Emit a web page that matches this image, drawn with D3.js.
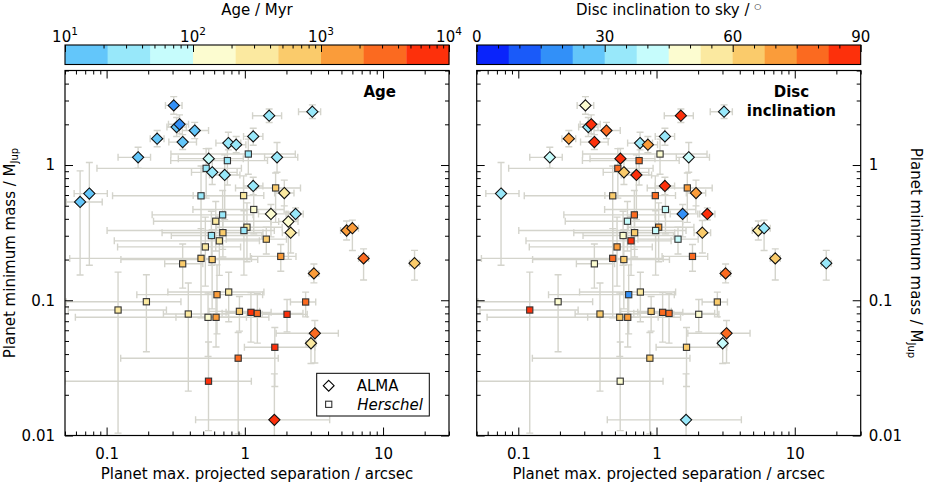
<!DOCTYPE html>
<html><head><meta charset="utf-8">
<script src="https://cdn.jsdelivr.net/npm/d3@7"></script>
<style>
body{margin:0;background:#fff}
svg{display:block}
text{font-family:"DejaVu Sans",sans-serif;fill:#000}
</style>
</head><body>
<svg id="c" width="926" height="490"></svg>
<script>
// ---------------- data ----------------
// 35 Herschel planets followed by 32 ALMA planets
const instrument = [].concat(Array.from({length:35},()=>"Herschel"), Array.from({length:32},()=>"ALMA"));

// planet maximum projected separation / arcsec
const separation = [
 1.06,0.748,0.525,0.482,0.98,1.67,1.16,0.691,0.616,1.036,0.985,0.573,0.694,0.654,1.43,0.518,1.82,0.355,0.482,0.58,
 0.629,0.764,0.194,0.121,0.39,0.542,0.619,0.914,1.107,1.232,2.02,2.754,1.648,0.895,0.546,
 0.306,0.321,0.337,0.434,0.232,0.355,0.169,0.075,0.0643,0.548,0.581,0.715,0.760,0.866,1.15,1.50,3.08,1.71,1.15,1.93,
 1.545,2.33,2.065,2.145,3.16,5.45,6.0,7.23,16.9,3.21,3.01,1.636];

// planet minimum mass / M_Jup
const mass = [
 1.206,1.078,0.945,0.592,0.594,0.677,0.469,0.428,0.384,0.347,0.328,0.301,0.316,0.275,0.283,0.248,0.211,0.186,0.204,0.200,
 0.110,0.115,0.0975,0.0847,0.0791,0.0748,0.0748,0.0828,0.0814,0.080,0.0787,0.0971,0.0449,0.0373,0.0252,
 2.76,1.91,2.0,1.80,1.566,1.478,1.14,0.615,0.533,1.115,0.883,0.844,1.453,1.414,1.628,2.315,2.48,1.14,0.70,0.621,
 0.435,0.435,0.382,0.316,0.158,0.328,0.341,0.204,0.188,0.057,0.0481,0.01305];

// system age / Myr
const ageMyr = [
 30,35,27,22,250,550,130,33,320,280,36,29,700,380,800,330,1300,650,750,850,
 1600,300,260,230,420,180,1200,900,7000,3000,6500,4000,8000,2500,5000,
 5,15,6,18,14,16,12,13,17,60,30,25,40,35,28,32,24,38,42,300,
 150,30,170,350,1500,1400,1800,3000,600,3500,400,6000];

// disc inclination to sky / deg (null = unknown, not in right panel)
const inclination = [
 48,80,79,65,80,70,41,81,43,69,39,50,66,87,44,72,79,51,77,63,
 18,57,47,85,61,62,70,65,80,78,50,64,62,66,52,
 49,34,85,78,71,88,40,33,null,84,63,87,35,73,36,86,33,42,83,70,
 20,88,null,62,78,57,35,64,32,77,40,35];

// uncertainties in dex
const sepErrLo = [
 .56,.41,.79,.64,.365,.29,.44,.51,.45,.22,.99,.29,.44,.76,.29,.635,.22,.13,.95,.66,
 .58,.44,.58,.36,.18,.96,.29,.22,.18,.255,.18,.11,.22,.85,1.04,
 .06,.07,.08,.09,.05,.1,.145,.11,.1,.22,.15,.11,.09,.07,.07,.12,.1,.09,.07,.07,
 .09,.055,.07,.06,.036,.044,.044,.036,.036,.28,.036,.57];
const sepErrHi = [
 .34,.29,.255,.31,.146,.18,.22,.22,.4,.255,.22,.365,.29,.29,.146,.255,.11,.146,.365,.33,
 .33,.255,.25,.35,.29,.44,.22,.146,.146,.33,.146,.073,.29,.29,.31,
 .06,.07,.065,.1,.05,.1,.09,.13,.16,.25,.18,.11,.09,.07,.07,.09,.06,.15,.07,.07,
 .11,.055,.07,.06,.036,.044,.044,.036,.036,.17,.036,.4];
const massErrLo = [
 .15,.18,.22,.44,.29,.255,.18,.255,.22,.255,.33,.22,.18,.255,.11,.29,.11,.18,.44,.365,
 .29,.22,.37,.91,.57,.29,.22,.146,.22,.22,.13,.11,.29,.56,.365,
 .065,.07,.07,.06,.06,.055,.08,.53,.54,.075,.09,.33,.05,.06,.065,.05,.05,.11,.065,.095,
 .17,.045,.28,.15,.07,.07,.165,.16,.125,.22,.15,.35];
const massErrHi = [
 .11,.11,.146,.22,.146,.11,.146,.18,.146,.18,.146,.18,.146,.18,.088,.22,.088,.146,.22,.22,
 .22,.146,.2,.28,.23,.18,.146,.11,.146,.146,.11,.073,.146,.19,.29,
 .065,.07,.07,.06,.06,.055,.075,.23,.23,.075,.09,.15,.08,.06,.06,.05,.05,.11,.065,.095,
 .07,.045,.07,.09,.07,.07,.06,.07,.095,.095,.07,.34];

// colour bins (12 steps) and scale ticks
const binColours = ["#0a24fb","#1a5af9","#3290f8","#63c6fa","#98e8fa","#c6fcfc",
                    "#fcfcd0","#fbe9a0","#facb6b","#fa9c3a","#fb6a20","#fd300b"];
const ageBinEdges = [10,21.54,46.42,100,215.4,464.2,1000,2154,4642,10000];
const ageTickExponents = ["1","2","3","4"];
const incTicks = [0,30,60,90];
const xMajorTicks = [0.1,1,10];
const yMajorTicks = [0.01,0.1,1];

// ---------------- drawing ----------------
const svg = d3.select("#c");
const PW = 384, TOP = 70.5, BOT = 435.5, CB_TOP = 45, CB_H = 19.5;
const FS = 15;
const ageColour = d3.scaleThreshold().domain(ageBinEdges.slice(0,9)).range([binColours[2]].concat(binColours.slice(3)));
const incColour = d3.scaleQuantize().domain([0,90]).range(binColours);

const xMinor = [], yMinor = [];
for (let k=-2;k<=1;k++) for (let m=2;m<=9;m++){const v=m*Math.pow(10,k); if(v>=0.05&&v<=30&&v!==0.1&&v!==1&&v!==10) xMinor.push(v);}
for (let k=-2;k<=0;k++) for (let m=2;m<=9;m++){const v=m*Math.pow(10,k); if(v<=5) yMinor.push(v);}

function styleAxis(g){
  g.select(".domain").remove();
  g.selectAll(".tick line").attr("stroke","#000").attr("stroke-width",1);
  g.selectAll(".tick text").attr("font-size",FS).attr("font-family","DejaVu Sans");
  g.attr("font-family",null).attr("font-size",null);
}

function panel(x0, colourOf, values, isLeft){
  const x = d3.scaleLog().domain([0.05,30]).range([x0, x0+PW]);
  const y = d3.scaleLog().domain([0.01,5]).range([BOT, TOP]);
  const g = svg.append("g");
  const cid = "clip"+Math.round(x0);
  svg.append("clipPath").attr("id",cid).append("rect")
     .attr("x",x0).attr("y",TOP).attr("width",PW).attr("height",BOT-TOP);
  const idx = d3.range(separation.length).filter(i => values[i] !== null);

  // error bars
  const eb = g.append("g").attr("clip-path",`url(#${cid})`)
     .attr("stroke","#d4d4cc").attr("stroke-width",1.4).attr("fill","none");
  const cap = 3.5;
  idx.forEach(i=>{
    const cx = x(separation[i]), cy = y(mass[i]);
    const xl = x(separation[i]*Math.pow(10,-sepErrLo[i])), xh = x(separation[i]*Math.pow(10,sepErrHi[i]));
    const yl = y(mass[i]*Math.pow(10,-massErrLo[i])), yh = y(mass[i]*Math.pow(10,massErrHi[i]));
    const p = d3.path();
    p.moveTo(xl,cy); p.lineTo(xh,cy);
    p.moveTo(xl,cy-cap); p.lineTo(xl,cy+cap);
    p.moveTo(xh,cy-cap); p.lineTo(xh,cy+cap);
    p.moveTo(cx,yl); p.lineTo(cx,yh);
    p.moveTo(cx-cap,yl); p.lineTo(cx+cap,yl);
    p.moveTo(cx-cap,yh); p.lineTo(cx+cap,yh);
    eb.append("path").attr("d",p.toString());
  });

  // markers
  const mk = g.append("g").attr("clip-path",`url(#${cid})`);
  idx.filter(i=>instrument[i]==="Herschel").forEach(i=>{
    mk.append("rect").attr("x",x(separation[i])-3.1).attr("y",y(mass[i])-3.1)
      .attr("width",6.2).attr("height",6.2)
      .attr("fill",colourOf(values[i])).attr("stroke","#333").attr("stroke-width",1.1);
  });
  const r = 5.6;
  idx.filter(i=>instrument[i]==="ALMA").forEach(i=>{
    const cx=x(separation[i]), cy=y(mass[i]);
    mk.append("path").attr("d",`M${cx},${cy-r}L${cx+r},${cy}L${cx},${cy+r}L${cx-r},${cy}Z`)
      .attr("fill",colourOf(values[i])).attr("stroke","#111").attr("stroke-width",1.1);
  });

  // axes (inward ticks)
  const bx = svg.append("g").attr("transform",`translate(0,${BOT})`)
    .call(d3.axisBottom(x).tickValues(xMajorTicks).tickSize(-8).tickPadding(13).tickFormat(d3.format("~g")));
  styleAxis(bx);
  const bxm = svg.append("g").attr("transform",`translate(0,${BOT})`)
    .call(d3.axisBottom(x).tickValues(xMinor).tickSize(-4).tickFormat(""));
  styleAxis(bxm);
  const tx = svg.append("g").attr("transform",`translate(0,${TOP})`)
    .call(d3.axisTop(x).tickValues(xMajorTicks).tickSize(-8).tickFormat(""));
  styleAxis(tx);
  const txm = svg.append("g").attr("transform",`translate(0,${TOP})`)
    .call(d3.axisTop(x).tickValues(xMinor).tickSize(-4).tickFormat(""));
  styleAxis(txm);

  const ly = svg.append("g").attr("transform",`translate(${x0},0)`)
    .call(d3.axisLeft(y).tickValues(yMajorTicks).tickSize(-8).tickPadding(10).tickFormat(isLeft?d3.format("~g"):""));
  styleAxis(ly);
  const lym = svg.append("g").attr("transform",`translate(${x0},0)`)
    .call(d3.axisLeft(y).tickValues(yMinor).tickSize(-4).tickFormat(""));
  styleAxis(lym);
  const ry = svg.append("g").attr("transform",`translate(${x0+PW},0)`)
    .call(d3.axisRight(y).tickValues(yMajorTicks).tickSize(-8).tickPadding(8).tickFormat(isLeft?"":d3.format("~g")));
  styleAxis(ry);
  const rym = svg.append("g").attr("transform",`translate(${x0+PW},0)`)
    .call(d3.axisRight(y).tickValues(yMinor).tickSize(-4).tickFormat(""));
  styleAxis(rym);

  svg.append("rect").attr("x",x0).attr("y",TOP).attr("width",PW).attr("height",BOT-TOP)
    .attr("fill","none").attr("stroke","#000").attr("stroke-width",1.2);

  svg.append("text").attr("x",x0+PW/2).attr("y",479).attr("text-anchor","middle")
    .attr("font-size",FS).text("Planet max. projected separation / arcsec");
  return {x,y};
}

// Left panel (age)
panel(65, v=>ageColour(v), ageMyr, true);
// Right panel (inclination)
panel(476.7, v=>incColour(v), inclination, false);

// panel titles
svg.append("text").attr("x",65+314.7).attr("y",96.5).attr("text-anchor","middle")
  .attr("font-size",FS).attr("font-weight","bold").text("Age");
svg.append("text").attr("x",476.7+314.7).attr("y",96.5).attr("text-anchor","middle")
  .attr("font-size",FS).attr("font-weight","bold").text("Disc");
svg.append("text").attr("x",476.7+314.7).attr("y",116).attr("text-anchor","middle")
  .attr("font-size",FS).attr("font-weight","bold").text("inclination");

// y-axis labels
const yl = svg.append("text").attr("transform","translate(15,253) rotate(-90)")
  .attr("text-anchor","middle").attr("font-size",FS);
yl.append("tspan").text("Planet minimum mass / M");
yl.append("tspan").attr("font-size",10).attr("dy",3).text("Jup");
const yr = svg.append("text").attr("transform","translate(911,253) rotate(90)")
  .attr("text-anchor","middle").attr("font-size",FS);
yr.append("tspan").text("Planet minimum mass / M");
yr.append("tspan").attr("font-size",10).attr("dy",3).text("Jup");

// legend
const lg = svg.append("g");
lg.append("rect").attr("x",316.7).attr("y",373.3).attr("width",112.6).attr("height",42.7)
  .attr("fill","#fff").attr("stroke","#000").attr("stroke-width",1);
{
  const cx=328.7, cy=385.7, r=5.4;
  lg.append("path").attr("d",`M${cx},${cy-r}L${cx+r},${cy}L${cx},${cy+r}L${cx-r},${cy}Z`)
    .attr("fill","#fff").attr("stroke","#000").attr("stroke-width",1.1);
  lg.append("rect").attr("x",328.7-3.1).attr("y",404.3-3.1).attr("width",6.2).attr("height",6.2)
    .attr("fill","#fff").attr("stroke","#333").attr("stroke-width",1.1);
  lg.append("text").attr("x",356.7).attr("y",390.5).attr("font-size",FS).text("ALMA");
  lg.append("text").attr("x",357.2).attr("y",410).attr("font-size",FS).attr("font-style","italic").text("Herschel");
}

// colour bars
function colourbar(x0, scale, edges, colourOf, majors, minors, labelFn, title, isAge){
  const g = svg.append("g");
  for (let i=0;i<edges.length-1;i++){
    const a = edges[i], b = edges[i+1];
    const mid = isAge ? Math.sqrt(a*b) : (a+b)/2;
    g.append("rect").attr("x",scale(a)).attr("y",CB_TOP).attr("width",scale(b)-scale(a)+0.3)
      .attr("height",CB_H).attr("fill",colourOf(mid));
  }
  const ax = svg.append("g").attr("transform",`translate(0,${CB_TOP})`)
    .call(d3.axisTop(scale).tickValues(majors).tickSize(-7).tickFormat(""));
  styleAxis(ax);
  const axm = svg.append("g").attr("transform",`translate(0,${CB_TOP})`)
    .call(d3.axisTop(scale).tickValues(minors).tickSize(-3.5).tickFormat(""));
  styleAxis(axm);
  g.append("rect").attr("x",x0).attr("y",CB_TOP).attr("width",PW).attr("height",CB_H)
    .attr("fill","none").attr("stroke","#000").attr("stroke-width",1.1);
  majors.forEach((v,i)=>labelFn(v,i,scale(v)));
  const t = svg.append("text").attr("x",x0+PW/2).attr("y",15.3).attr("text-anchor","middle").attr("font-size",FS);
  title(t);
}

const ageScale = d3.scaleLog().domain([10,10000]).range([65,65+PW]);
const ageMinor = [];
for (let k=1;k<=3;k++) for (let m=2;m<=9;m++) ageMinor.push(m*Math.pow(10,k));
colourbar(65, ageScale, ageBinEdges, v=>ageColour(v), [10,100,1000,10000], ageMinor,
  (v,i,px)=>{
    const t = svg.append("text").attr("x",px).attr("y",41.5).attr("text-anchor","middle").attr("font-size",FS);
    t.append("tspan").text("10");
    t.append("tspan").attr("font-size",10.5).attr("dy",-6.5).text(ageTickExponents[i]);
  },
  t=>t.text("Age / Myr"), true);

const incScale = d3.scaleLinear().domain([0,90]).range([476.7,476.7+PW]);
const incEdges = d3.range(0,90.01,7.5);
const incMinor = d3.range(5,90,5).filter(v=>v%30!==0);
colourbar(476.7, incScale, incEdges, v=>incColour(v), incTicks, incMinor,
  (v,i,px)=>{
    svg.append("text").attr("x",px).attr("y",41.5).attr("text-anchor","middle").attr("font-size",FS).text(String(v));
  },
  t=>{ t.append("tspan").text("Disc inclination to sky / ");
       t.append("tspan").attr("font-size",8).attr("dy",-6.5).text("○"); }, false);
</script>
</body></html>
